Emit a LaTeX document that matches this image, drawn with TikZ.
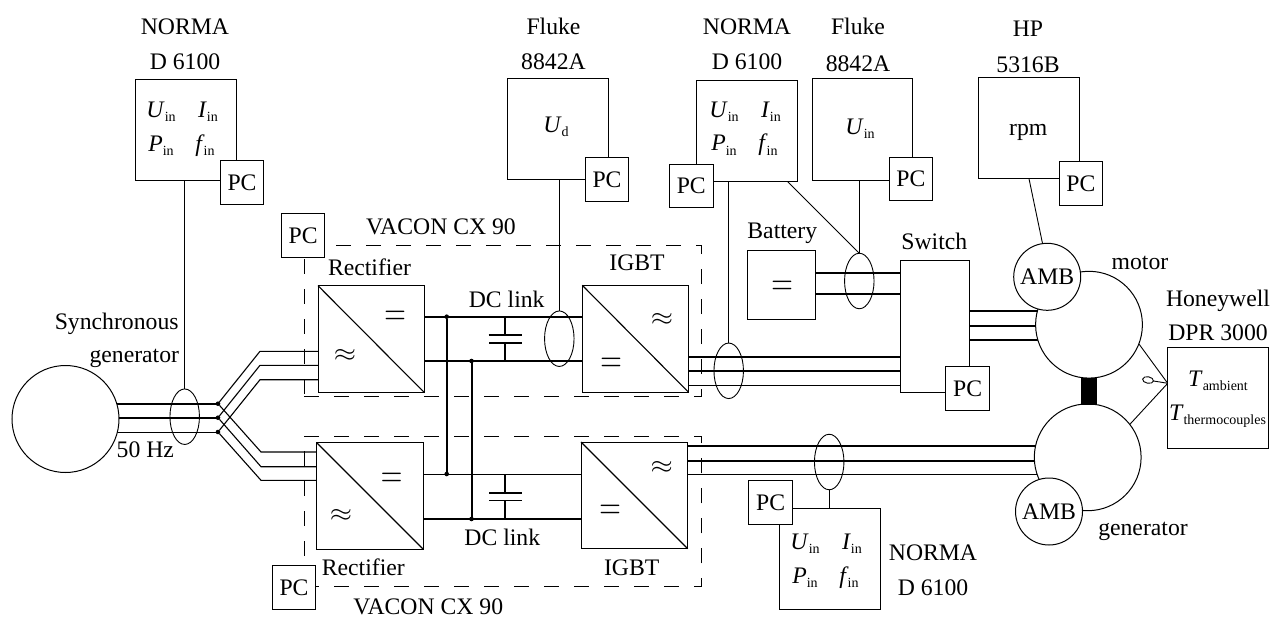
\documentclass[tikz,border=0pt]{standalone}
\usepackage{fontspec}
\usepackage{graphicx}
\setmainfont{Liberation Serif}
\usetikzlibrary{shapes.geometric,calc}
\pgfdeclarelayer{wires}
\pgfsetlayers{wires,main}
\newcommand{\vsub}[3][0pt]{\textit{#2}\kern#1\raisebox{-4.5pt}{\fontsize{14}{14}\selectfont #3}}
\newcommand{\bx}[6][]{\node[bxs,#1,minimum width={(#4-#2)*1pt},minimum height={(#5-#3)*1pt}] (#6) at ({(#2+#4)/2},{(#3+#5)/2}) {};}
\newcommand{\eqs}{\fontsize{24.88}{25}\selectfont\scalebox{1.2}[1.62]{$=$}}
\newcommand{\apx}{\fontsize{24.88}{25}\selectfont\scalebox{1.15}[1.0]{$\approx$}}
\tikzset{
  bxs/.style={draw=black,fill=white,line width=1pt,rectangle,inner sep=0pt,outer sep=0pt},
  pcbox/.style={bxs,minimum width=43.5pt,minimum height=43.5pt,font=\fontsize{23.7}{24}\selectfont},
  dashbox/.style={draw=black,fill=none,line width=1pt,dash pattern=on 15pt off 15pt},
  lab/.style={anchor=base,inner sep=0pt,outer sep=0pt,font=\fontsize{23.7}{24}\selectfont},
  sym/.style={inner sep=0pt,outer sep=0pt},
  circ/.style={draw=black,fill=white,circle,line width=1pt,inner sep=0pt,outer sep=0pt},
  clamp/.style={draw=black,ellipse,line width=.9pt,minimum width=29.5pt,minimum height=55.5pt,inner sep=0pt,outer sep=0pt},
  dot/.style={fill=black,circle,minimum size=4.6pt,inner sep=0pt,outer sep=0pt},
  thin line/.style={line width=.9pt},
  heavy/.style={line width=2pt},
  amb/.style={circ,minimum size=67pt,font=\fontsize{23.7}{24}\selectfont}
}
\begin{document}
\begin{tikzpicture}[x=1pt,y=-1pt]
\useasboundingbox (0,0) rectangle (1282,618);
% dashed frames
\bx[dashbox]{304.3}{245.3}{701.7}{396.7}{vac1}
\bx[dashbox]{304.3}{436}{701.7}{586}{vac2}
% instruments
\bx{135.5}{79}{236}{180}{n1}
\bx{507.5}{78}{608.5}{179.5}{f1}
\bx{696.3}{80}{797}{181.3}{n2}
\bx{812.3}{78.7}{912.7}{180}{f2}
\bx{978.7}{77.7}{1079.3}{178.7}{hp}
\bx{779.7}{508.3}{880}{609.3}{n3}
\bx{1167.7}{347.3}{1268.3}{448.3}{hw}
\bx{747.3}{250.7}{815.3}{319}{bat}
\bx{900}{260.3}{969.3}{392.3}{sw}
% converters
\bx{318}{285.7}{424.5}{392.7}{rc1}
\bx{582.3}{285.3}{688.3}{392}{ig1}
\bx{316.7}{442.7}{423}{549}{rc2}
\bx{581}{442}{687.7}{548.7}{ig2}
% machines
\node[circ,minimum size=107pt] (sg) at (65.5,419) {};
\node[circ,minimum size=106.8pt] (mot) at (1089,324.7) {};
\node[circ,minimum size=106.8pt] (gn) at (1087.7,457.3) {};
\node[fill=black,inner sep=0pt,outer sep=0pt,minimum width=16pt,minimum height=27pt] (shaft) at (1089,391) {};
\node[amb] (amb1) at (1047.2,276.8) {AMB};
\node[amb] (amb2) at (1049,511.5) {AMB};
% PCs
\node[pcbox] (pc1) at (242,182.5) {PC};
\node[pcbox] (pc2) at (607,179.5) {PC};
\node[pcbox] (pc3) at (691.3,186.2) {PC};
\node[pcbox] (pc4) at (910.9,179) {PC};
\node[pcbox] (pc5) at (1080.9,183.5) {PC};
\node[pcbox] (pc6) at (303.2,235.7) {PC};
\node[pcbox] (pc7) at (967.7,388.7) {PC};
\node[pcbox] (pc8) at (770.7,502.3) {PC};
\node[pcbox] (pc9) at (294,587.7) {PC};
% clamps
\node[clamp] (e1) at (184.7,416.7) {};
\node[clamp] (e2) at (559.3,338.7) {};
\node[clamp] (e3) at (728.7,370.8) {};
\node[clamp] (e4) at (859.3,281) {};
\node[clamp] (e5) at (829.2,462) {};
\node[draw=black,ellipse,line width=.9pt,minimum width=11pt,minimum height=6.5pt,inner sep=0pt,outer sep=0pt,rotate=-10] (loop) at (1148,380) {};
% dots
\node[dot] (gp1) at (218,403.7) {};
\node[dot] (gp2) at (218,417.7) {};
\node[dot] (gp3) at (218,432) {};
\node[dot] (j1) at (446.7,316.7) {};
\node[dot] (j2) at (446.7,474) {};
\node[dot] (j3) at (471.5,361) {};
\node[dot] (j4) at (471.5,519) {};
% coordinates
\coordinate (bu1) at (260,351.3);
\coordinate (bu2) at (260,365.3);
\coordinate (bu3) at (260,379.7);
\coordinate (bl1) at (261,452);
\coordinate (bl2) at (261,466.7);
\coordinate (bl3) at (261,480.3);
\coordinate (o1) at (800,356.7);
\coordinate (o2) at (800,371);
\coordinate (o3) at (800,385.3);
\coordinate (b1) at (860,272.7);
\coordinate (b2) at (860,293.7);
\coordinate (m1) at (1089,310.7);
\coordinate (m2) at (1089,326);
\coordinate (m3) at (1089,339.7);
\coordinate (g1) at (1087.7,446);
\coordinate (g2) at (1087.7,460.7);
\coordinate (g3) at (1087.7,474.3);
\coordinate (n2d) at (787,181);
\coordinate (hwp) at (1167.7,383.3);
\coordinate (c1a) at (505,316.7);
\coordinate (c1b) at (505,335);
\coordinate (c1c) at (505,342.7);
\coordinate (c1d) at (505,361);
\coordinate (c2a) at (505,474);
\coordinate (c2b) at (505,492.7);
\coordinate (c2c) at (505,500.3);
\coordinate (c2d) at (505,519);
% wires beneath everything
\begin{pgfonlayer}{wires}
\draw[heavy] (sg.center |- gp1) -- (gp1);
\draw[heavy] (sg.center |- gp2) -- (gp2);
\draw[thin line] (sg.center |- gp3) -- (gp3);
\draw[line width=1.1pt] (gp1) -- (bu1) -- (rc1.west |- bu1);
\draw[line width=1.1pt] (gp2) -- (bu2) -- (rc1.west |- bu2);
\draw[line width=1.1pt] (gp3) -- (bu3) -- (rc1.west |- bu3);
\draw[line width=1.1pt] (gp1) -- (bl1) -- (rc2.west |- bl1);
\draw[line width=1.1pt] (gp2) -- (bl2) -- (rc2.west |- bl2);
\draw[line width=1.1pt] (gp3) -- (bl3) -- (rc2.west |- bl3);
\draw[heavy] (rc1.east |- j1) -- (ig1.west |- j1);
\draw[heavy] (rc1.east |- j3) -- (ig1.west |- j3);
\draw[thin line] (rc2.east |- j2) -- (ig2.west |- j2);
\draw[heavy] (rc2.east |- j4) -- (ig2.west |- j4);
\draw[heavy] (j1) -- (j2);
\draw[heavy] (j3) -- (j4);
\draw[heavy] (ig1.east |- o1) -- (sw.west |- o1);
\draw[heavy] (ig1.east |- o2) -- (sw.west |- o2);
\draw[thin line] (ig1.east |- o3) -- (sw.west |- o3);
\draw[heavy] (bat.east |- b1) -- (sw.west |- b1);
\draw[heavy] (bat.east |- b2) -- (sw.west |- b2);
\draw[heavy] (sw.east |- m1) -- (m1);
\draw[heavy] (sw.east |- m2) -- (m2);
\draw[heavy] (sw.east |- m3) -- (m3);
\draw[heavy] (ig2.east |- g1) -- (g1);
\draw[heavy] (ig2.east |- g2) -- (g2);
\draw[thin line] (ig2.east |- g3) -- (g3);
\draw[thin line] (e1.north) -- (e1.north |- n1.south);
\draw[thin line] (e2.north) -- (e2.north |- f1.south);
\draw[thin line] (e3.north) -- (e3.north |- n2.south);
\draw[thin line] (e4.north) -- (e4.north |- f2.south);
\draw[thin line] (n2d) -- (e4.north);
\draw[thin line] (e5.south) -- (e5.south |- n3.north);
\draw[thin line] (hp.south) -- (amb1.98);
\draw[thin line] (mot.-21) -- (hwp);
\draw[thin line] (gn.38) -- (hwp);
\draw[thin line] (loop.east) -- (hwp);
\draw[line width=1.6pt] (c1a) -- (c1b);
\draw[line width=1.6pt] (c1c) -- (c1d);
\draw[line width=1.6pt] (c2a) -- (c2b);
\draw[line width=1.6pt] (c2c) -- (c2d);
\draw[line width=1.6pt] ($(c1b)+(-16.5,0)$) -- ($(c1b)+(16.5,0)$);
\draw[line width=1.6pt] ($(c1c)+(-16,0)$) -- ($(c1c)+(17,0)$);
\draw[line width=1.8pt] ($(c2b)+(-16,0)$) -- ($(c2b)+(17,0)$);
\draw[line width=.9pt] ($(c2c)+(-16,0)$) -- ($(c2c)+(17,0)$);
\end{pgfonlayer}
% diagonals
\draw[line width=1.1pt] (rc1.north west) -- (rc1.south east);
\draw[line width=1.1pt] (ig1.north west) -- (ig1.south east);
\draw[line width=1.1pt] (rc2.north west) -- (rc2.south east);
\draw[line width=1.1pt] (ig2.north west) -- (ig2.south east);
% symbols
\node[sym] (s1) at (395,318) {\eqs};
\node[sym] (s2) at (345,355) {\apx};
\node[sym] (s3) at (662,319) {\apx};
\node[sym] (s4) at (611,365) {\eqs};
\node[sym] (s5) at (391.7,480) {\eqs};
\node[sym] (s6) at (341,515.3) {\apx};
\node[sym] (s7) at (661.7,467) {\apx};
\node[sym] (s8) at (610,512) {\eqs};
\node[sym] (s9) at (782,288.3) {\eqs};
% labels
\node[lab] (t1) at (185,35) {NORMA};
\node[lab] (t2) at (185,69.5) {D 6100};
\node[lab] (t3) at (553.5,35) {Fluke};
\node[lab] (t4) at (553.5,69.5) {8842A};
\node[lab] (t5) at (747,35) {NORMA};
\node[lab] (t6) at (747,70) {D 6100};
\node[lab] (t7) at (858,35) {Fluke};
\node[lab] (t8) at (858,71.5) {8842A};
\node[lab] (t9) at (1028,37) {HP};
\node[lab] (t10) at (1028,72.3) {5316B};
\node[lab] (t11) at (1028.3,135.7) {rpm};
\node[lab] (t12) at (441,234.3) {VACON CX 90};
\node[lab] (t13) at (369.5,275) {Rectifier};
\node[lab] (t14) at (637,270.7) {IGBT};
\node[lab] (t15) at (506.7,307.3) {DC link};
\node[lab] (t16) at (782.3,238.3) {Battery};
\node[lab] (t17) at (934.3,249.3) {Switch};
\node[lab] (t18) at (1140,269.3) {motor};
\node[lab] (t19) at (1218,306) {Honeywell};
\node[lab] (t20) at (1218,340.7) {DPR 3000};
\node[lab] (t21) at (116.7,329) {Synchronous};
\node[lab] (t22) at (134.3,362.7) {generator};
\node[lab] (t23) at (145.3,457.3) {50 Hz};
\node[lab] (t24) at (363.3,575.3) {Rectifier};
\node[lab] (t25) at (631.7,575.7) {IGBT};
\node[lab] (t26) at (502.3,545) {DC link};
\node[lab] (t27) at (428.3,614.5) {VACON CX 90};
\node[lab] (t28) at (1143,535) {generator};
\node[lab] (t29) at (933,560.7) {NORMA};
\node[lab] (t30) at (933,595) {D 6100};
% quantities
\node[lab] (q1) at (161,117) {\vsub{U}{in}};
\node[lab] (q2) at (208,117) {\vsub{I}{in}};
\node[lab] (q3) at (161,151) {\vsub{P}{in}};
\node[lab] (q4) at (205,151) {\vsub[-1pt]{f}{in}};
\node[lab] (q5) at (556,132.3) {\vsub{U}{d}};
\node[lab] (q6) at (724,117.3) {\vsub{U}{in}};
\node[lab] (q7) at (771,117.3) {\vsub{I}{in}};
\node[lab] (q8) at (724,150.7) {\vsub{P}{in}};
\node[lab] (q9) at (768,150.7) {\vsub[-1pt]{f}{in}};
\node[lab] (q10) at (860,134) {\vsub{U}{in}};
\node[lab] (q11) at (805,549.3) {\vsub{U}{in}};
\node[lab] (q12) at (852,549.3) {\vsub{I}{in}};
\node[lab] (q13) at (805,583.3) {\vsub{P}{in}};
\node[lab] (q14) at (849,583.3) {\vsub[-1pt]{f}{in}};
\node[lab] (q15) at (1218,386) {\vsub{T}{ambient}};
\node[lab] (q16) at (1217.5,420) {\vsub{T}{thermocouples}};
\end{tikzpicture}
\end{document}
